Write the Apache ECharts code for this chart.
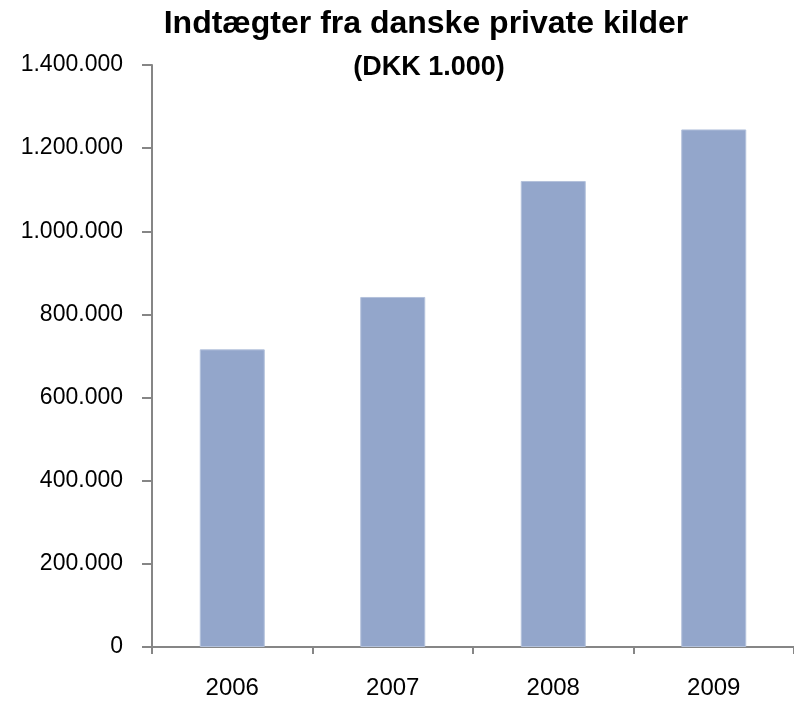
<!DOCTYPE html>
<html>
<head>
<meta charset="utf-8">
<script src="https://cdn.jsdelivr.net/npm/echarts@6/dist/echarts.min.js"></script>
<style>
    html, body { margin: 0; padding: 0; background: #fff; }
    #chart { width: 794px; height: 702px; }
</style>
</head>
<body>
<div id="chart"></div>
<script>
// data (DKK 1.000)
const years = ['2006', '2007', '2008', '2009']
const income = [716000, 842000, 1121000, 1245000]
const yTicks = { min: 0, max: 1400000, interval: 200000 }

const axisColor = '#868686'
const font = 'Liberation Sans'

function dkk (val) {
    return String(val).replace(/\B(?=(\d{3})+(?!\d))/g, '.')
}

const chart = echarts.init(document.getElementById('chart'))
const option = {
    animation: false,
    textStyle: { fontFamily: font },
    title: [{
        text: 'Indtægter fra danske private kilder',
        left: 421,
        top: 3,
        textAlign: 'center',
        textStyle: {
            fontFamily: font,
            fontSize: 32,
            fontWeight: 'bold',
            color: '#000'
        }
    }, {
        text: '(DKK 1.000)',
        left: 424,
        top: 49,
        textAlign: 'center',
        textStyle: {
            fontFamily: font,
            fontSize: 27,
            fontWeight: 'bold',
            color: '#000'
        }
    }],
    grid: {
        left: 152,
        top: 65,
        width: 646,
        bottom: 55
    },
    xAxis: {
        type: 'category',
        data: years,
        axisLine: { lineStyle: { color: axisColor, width: 2 } },
        axisTick: { show: true, length: 7, lineStyle: { color: axisColor, width: 2 } },
        axisLabel: { color: '#000', fontSize: 24, margin: 29 },
        splitLine: { show: false }
    },
    yAxis: {
        type: 'value',
        min: yTicks.min,
        max: yTicks.max,
        interval: yTicks.interval,
        axisLine: { show: true, lineStyle: { color: axisColor, width: 2 } },
        axisTick: { show: true, length: 10, lineStyle: { color: axisColor, width: 2 } },
        axisLabel: { color: '#000', fontSize: 23, margin: 29, formatter: dkk },
        splitLine: { show: false }
    },
    series: [{
        type: 'bar',
        data: income,
        barWidth: 65,
        itemStyle: {
            color: '#93A6CB',
            borderColor: '#B4C2DC',
            borderWidth: 1
        }
    }]
}
chart.setOption(option)
</script>
</body>
</html>
